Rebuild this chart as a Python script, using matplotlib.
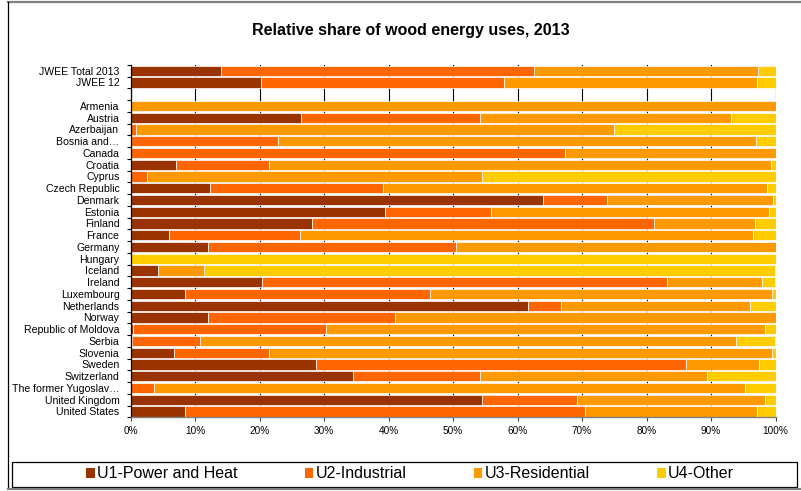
import numpy as np
import matplotlib.pyplot as plt
from matplotlib.patches import Patch, Rectangle
from matplotlib.lines import Line2D

plt.rcParams["font.family"] = ["Liberation Sans", "DejaVu Sans"]

# rows top to bottom ("" = spacer row)
countries = [
    "JWEE Total 2013", "JWEE 12", "",
    "Armenia", "Austria", "Azerbaijan", "Bosnia and\u2026", "Canada", "Croatia",
    "Cyprus", "Czech Republic", "Denmark", "Estonia", "Finland", "France",
    "Germany", "Hungary", "Iceland", "Ireland", "Luxembourg", "Netherlands",
    "Norway", "Republic of Moldova", "Serbia", "Slovenia", "Sweden",
    "Switzerland", "The former Yugoslav\u2026", "United Kingdom", "United States",
]

# shares in %
u1_power_heat = [14.0, 20.2, 0,
                 0, 26.4, 0, 0, 0, 7.1,
                 0, 12.4, 64.0, 39.5, 28.2, 5.9,
                 12.0, 0, 4.2, 20.4, 8.5, 61.7,
                 12.0, 0.4, 0.2, 6.7, 28.8,
                 34.5, 0, 54.5, 8.5]
u2_industrial = [48.5, 37.7, 0,
                 0, 27.8, 0.8, 22.9, 67.4, 14.4,
                 2.6, 26.8, 9.9, 16.4, 52.9, 20.4,
                 38.5, 0, 0, 62.8, 37.9, 5.1,
                 29.0, 29.9, 10.6, 14.8, 57.4,
                 19.7, 3.7, 14.7, 62.0]
u3_residential = [34.8, 39.3, 0,
                  100, 38.9, 74.2, 74.1, 32.6, 77.8,
                  51.9, 59.5, 25.7, 43.1, 15.7, 70.2,
                  49.5, 0, 7.2, 14.75, 53.1, 29.3,
                  59.0, 68.0, 83.1, 78.0, 11.2,
                  35.2, 91.6, 29.1, 26.6]
u4_other = [2.7, 2.8, 0,
            0, 6.9, 25.0, 3.0, 0, 0.7,
            45.5, 1.3, 0.4, 1.0, 3.2, 3.5,
            0, 100, 88.6, 2.05, 0.5, 3.9,
            0, 1.7, 6.1, 0.5, 2.6,
            10.6, 4.7, 1.7, 2.9]

series = [
    ("U1-Power and Heat", u1_power_heat, "#993300"),
    ("U2-Industrial", u2_industrial, "#FF6600"),
    ("U3-Residential", u3_residential, "#FF9900"),
    ("U4-Other", u4_other, "#FFCC00"),
]

W, H = 801, 491
fig = plt.figure(figsize=(W / 100, H / 100), dpi=100)


def fx(px):
    return px / W


def fy(py):
    return 1 - py / H


ax = fig.add_axes([fx(130.5), fy(417.3), fx(775.5) - fx(130.5), fy(64.8) - fy(417.3)])

y = np.arange(len(countries))
left = np.zeros(len(countries))
for name, vals, col in series:
    vals = np.array(vals, dtype=float)
    ax.barh(y, vals, left=left, height=0.88, color=col, edgecolor="white",
            linewidth=0.5, label=name, zorder=2)
    left += vals

ax.set_xlim(0, 100)
ax.set_ylim(len(countries) - 0.5, -0.5)
ax.set_xticks(np.arange(0, 101, 10))
ax.set_xticklabels([f"{v}%" for v in range(0, 101, 10)], fontsize=7.2)
ax.set_yticks(y)
ax.set_yticklabels(countries, fontsize=7.6)
ax.set_yticks(np.arange(-0.5, len(countries), 1), minor=True)
ax.tick_params(axis="y", which="major", length=0, pad=8)
ax.tick_params(axis="y", which="minor", length=3, width=0.8, direction="out")
ax.tick_params(axis="x", length=3, width=0.8, direction="out", pad=3.5, color="#404040")
ax.xaxis.grid(True, color="black", linewidth=0.8, zorder=0)
ax.set_axisbelow(True)
for s in ["top", "right"]:
    ax.spines[s].set_visible(False)
ax.spines["left"].set_color("black")
ax.spines["left"].set_linewidth(0.9)
ax.spines["bottom"].set_color("#808080")
ax.spines["bottom"].set_linewidth(1.0)

fig.text(fx(410.5), fy(31), "Relative share of wood energy uses, 2013",
         ha="center", va="center", fontsize=11.5, fontweight="bold")

# legend with its own box
fig.add_artist(Rectangle((fx(12), fy(486.5)), fx(797) - fx(12), fy(461.5) - fy(486.5),
                         transform=fig.transFigure, fill=False, edgecolor="black",
                         linewidth=0.9))
handles = [Patch(facecolor=c, edgecolor="none") for _, _, c in series]
fig.legend(handles, [n for n, _, _ in series], loc="center", ncol=4,
           bbox_to_anchor=(fx(410), fy(474)), frameon=False, fontsize=11.5,
           handlelength=0.55, handleheight=0.55, handletextpad=0.15,
           columnspacing=4.2, borderaxespad=0)

# chart outer frame
fig.add_artist(Line2D([fx(7.5), fx(801)], [fy(2), fy(2)], color="#808080", linewidth=1.6))
fig.add_artist(Line2D([fx(7.5), fx(7.5)], [fy(2), fy(488)], color="black", linewidth=0.9))
fig.add_artist(Line2D([fx(7.5), fx(801)], [fy(488.5), fy(488.5)], color="#808080", linewidth=1.6))

fig.savefig("out.png", dpi=100)
